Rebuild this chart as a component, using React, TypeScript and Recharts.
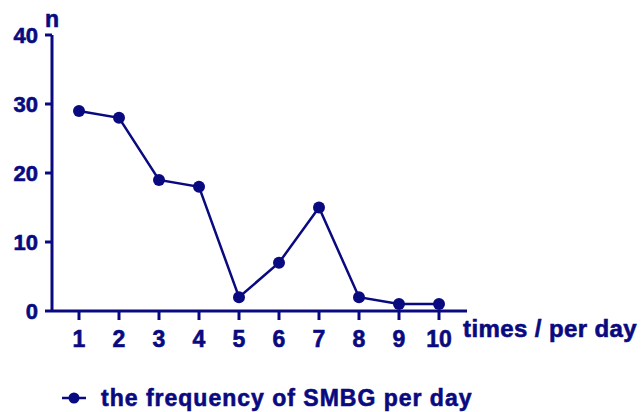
import { LineChart, Line, XAxis, YAxis, Legend, Label } from 'recharts';

const NAVY = '#0a0a80';
const FONT = '"Liberation Sans", Arial, sans-serif';

const timesPerDay = [1, 2, 3, 4, 5, 6, 7, 8, 9, 10];
const frequency = [29, 28, 19, 18, 2, 7, 15, 2, 1, 1];
const yTicks = [0, 10, 20, 30, 40];

const data = timesPerDay.map((t, i) => ({ times: t, n: frequency[i] }));

function LegendBox() {
  return (
    <div
      style={{
        display: 'flex',
        alignItems: 'center',
        height: 40,
        paddingTop: 12,
        boxSizing: 'border-box',
        fontFamily: FONT,
        fontWeight: 'bold',
        fontSize: 23,
        letterSpacing: 1,
        color: NAVY,
        WebkitTextStroke: `0.6px ${NAVY}`,
      }}
    >
      <svg width={24} height={12} style={{ marginRight: 15 }}>
        <line x1={0} y1={6} x2={24} y2={6} stroke={NAVY} strokeWidth={2.5} />
        <circle cx={12} cy={6} r={5.5} fill={NAVY} />
      </svg>
      <span>the frequency of SMBG per day</span>
    </div>
  );
}

export default function App() {
  const tickStyle = {
    fill: NAVY,
    stroke: NAVY,
    strokeWidth: 0.6,
    fontSize: 22,
    fontWeight: 'bold',
    fontFamily: FONT,
  };
  return (
    <div style={{ position: 'absolute', left: 0, top: 0, width: 641, height: 412 }}>
      <LineChart width={641} height={412} data={data} margin={{ top: 35, right: 174, bottom: 0, left: 0 }}>
        <XAxis
          dataKey="times"
          type="number"
          domain={[0.325, 10.7]}
          ticks={timesPerDay}
          interval={0}
          height={61}
          axisLine={{ stroke: NAVY, strokeWidth: 3 }}
          tickLine={{ stroke: NAVY, strokeWidth: 3 }}
          tickSize={9}
          tickMargin={11}
          tick={{ ...tickStyle, fontSize: 23 }}
        >
          <Label
            content={({ viewBox }: any) => (
              <text
                x={viewBox.x + viewBox.width - 4}
                y={viewBox.y + 26}
                fill={NAVY}
                stroke={NAVY}
                strokeWidth={0.6}
                fontSize={24}
                fontWeight="bold"
                fontFamily={FONT}
                letterSpacing={0.4}
              >
                times / per day
              </text>
            )}
          />
        </XAxis>
        <YAxis
          domain={[0, 40]}
          ticks={yTicks}
          width={52}
          axisLine={{ stroke: NAVY, strokeWidth: 3 }}
          tickLine={{ stroke: NAVY, strokeWidth: 3 }}
          tickSize={7}
          tickMargin={7}
          tick={tickStyle}
        >
          <Label
            content={({ viewBox }: any) => (
              <text
                x={viewBox.x + viewBox.width}
                y={viewBox.y - 8}
                textAnchor="middle"
                fill={NAVY}
                stroke={NAVY}
                strokeWidth={0.6}
                fontSize={23}
                fontWeight="bold"
                fontFamily={FONT}
              >
                n
              </text>
            )}
          />
        </YAxis>
        <Legend
          verticalAlign="bottom"
          align="left"
          content={() => <LegendBox />}
          wrapperStyle={{ left: 62, bottom: 0 }}
        />
        <Line
          dataKey="n"
          name="the frequency of SMBG per day"
          stroke={NAVY}
          strokeWidth={2.5}
          dot={{ r: 6, fill: NAVY, stroke: NAVY, strokeWidth: 0 }}
          activeDot={false}
          isAnimationActive={false}
        />
      </LineChart>
    </div>
  );
}
